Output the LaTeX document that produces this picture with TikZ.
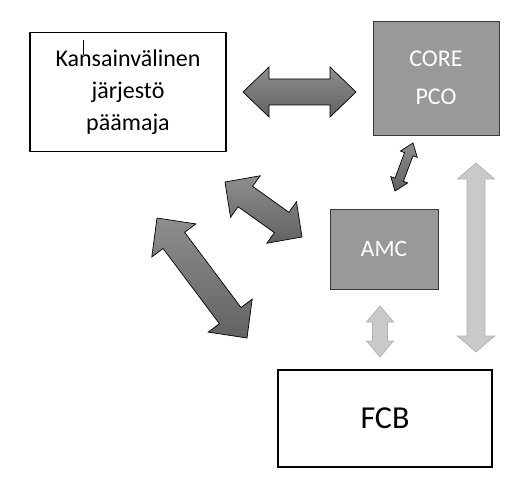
\documentclass[tikz,border=0pt]{standalone}
\usepackage{fontspec}
\setmainfont{Carlito}
\usetikzlibrary{calc}
% #1 style, #2 A, #3 B, #4 shaft half width, #5 head half width, #6 head length
\newcommand\dblarr[6][]{%
  \path[#1] (#2) -- ($(#2)!#6!(#3)!#5!90:(#3)$) -- ($(#2)!#6!(#3)!#4!90:(#3)$)
   -- ($(#3)!#6!(#2)!#4!-90:(#2)$) -- ($(#3)!#6!(#2)!#5!-90:(#2)$) -- (#3)
   -- ($(#3)!#6!(#2)!#5!90:(#2)$) -- ($(#3)!#6!(#2)!#4!90:(#2)$)
   -- ($(#2)!#6!(#3)!#4!-90:(#3)$) -- ($(#2)!#6!(#3)!#5!-90:(#3)$) -- cycle;}
\definecolor{boxgray}{HTML}{999999}
\definecolor{boxedge}{HTML}{3A3A3A}
\definecolor{arrtop}{HTML}{8E8E8E}
\definecolor{arrbot}{HTML}{626262}
\definecolor{lightfill}{HTML}{C9C9C9}
\definecolor{lightedge}{HTML}{B2B2B2}
\begin{document}
\begin{tikzpicture}[x=1pt,y=-1pt,
  wbox/.style={draw=black, line width=1.6pt, fill=white, inner sep=0pt, align=center},
  gbox/.style={draw=boxedge, line width=0.8pt, fill=boxgray, text=white, inner sep=0pt, align=center},
  darkarr/.style={draw=black, line width=0.7pt, top color=arrtop, bottom color=arrbot, line join=miter},
  lightarr/.style={draw=lightedge, line width=0.7pt, fill=lightfill, line join=miter}]
\useasboundingbox (0,0) rectangle (522,489);
\fill[white] (0,0) rectangle (522,489);

\node[wbox, minimum width=196pt, minimum height=119pt,
      font=\fontsize{24}{32}\selectfont] (hq) at (128,92)
      {Kansainvälinen\\järjestö\\päämaja};
\draw[line width=0.5pt] (83,40) -- (83,55);

\node[gbox, minimum width=126pt, minimum height=114pt,
      font=\fontsize{24}{38}\selectfont] (core) at (436,78) {CORE\\PCO};
\node[gbox, minimum width=108pt, minimum height=80pt,
      font=\fontsize{23.5}{25}\selectfont] (amc) at (384,249) {AMC};
\node[wbox, minimum width=214pt, minimum height=97pt,
      font=\fontsize{32}{36}\selectfont] (fcb) at (385,418.5) {FCB};

% arrow end points
\coordinate (h1a) at (243,92);  \coordinate (h1b) at (356,92);
\coordinate (d1a) at (413,143); \coordinate (d1b) at (395,191);
\coordinate (aa) at (225,182);  \coordinate (ab) at (302,237);
\coordinate (ba) at (157,218);  \coordinate (bb) at (247,338);
\coordinate (la) at (476,163);  \coordinate (lb) at (476,352);
\coordinate (sa) at (380,306);  \coordinate (sb) at (380,357);

\dblarr[darkarr]{h1a}{h1b}{13pt}{25pt}{26pt}
\dblarr[darkarr]{d1a}{d1b}{4.5pt}{9pt}{12pt}
\dblarr[darkarr]{aa}{ab}{12.5pt}{25.5pt}{25pt}
\dblarr[darkarr]{ba}{bb}{13.5pt}{27.5pt}{28pt}
\dblarr[lightarr]{la}{lb}{9pt}{18.5pt}{16pt}
\dblarr[lightarr]{sa}{sb}{7.5pt}{13.5pt}{16pt}
\end{tikzpicture}
\end{document}
